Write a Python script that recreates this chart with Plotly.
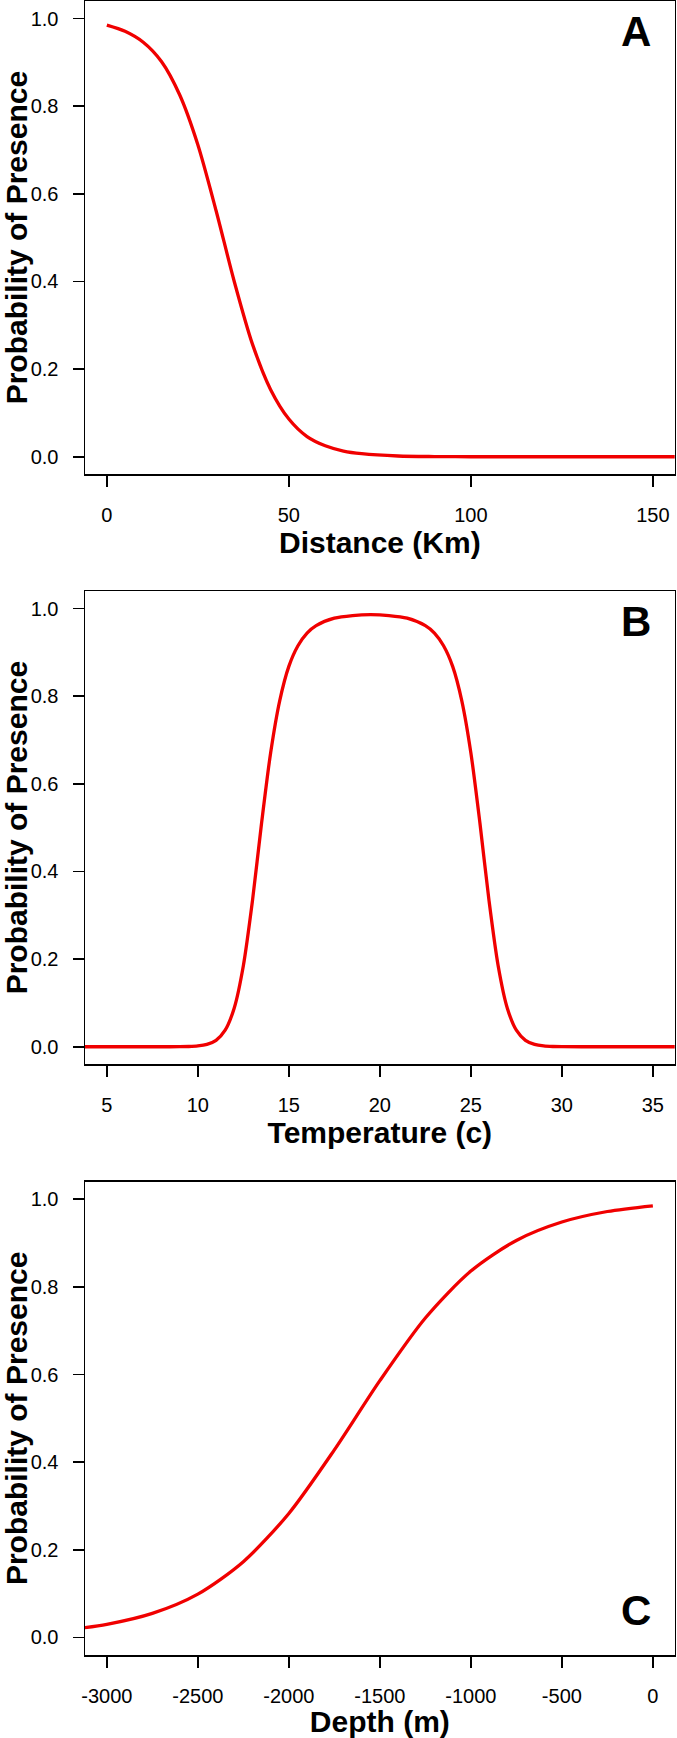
import plotly.graph_objects as go

# ---------------- data ----------------
dist_km = [0, 5, 10, 15, 20, 25, 30, 35, 40, 45, 50, 55, 60, 65, 70, 80, 90, 100, 120, 140, 160]
prob_dist = [0.985, 0.971, 0.946, 0.902, 0.826, 0.712, 0.562, 0.400, 0.257, 0.153, 0.086,
             0.046, 0.025, 0.013, 0.007, 0.0018, 0.0005, 0.0001, 0.0, 0.0, 0.0]

temp_c = [3.5, 5, 7, 8, 9, 9.5, 10, 10.5, 11, 11.5, 12, 12.5, 13, 13.5, 14, 14.5, 15, 15.5,
          16, 16.5, 17.5, 18.5, 19.5, 20.5, 21.5, 22.5, 23, 23.5, 24, 24.5, 25, 25.5, 26,
          26.5, 27, 27.5, 28, 28.5, 29, 29.5, 30, 32, 34, 36.5]
prob_temp = [0.0, 0.0, 0.0, 0.0, 0.0002, 0.0006, 0.0018, 0.0054, 0.0147, 0.0378, 0.0886,
             0.185, 0.333, 0.510, 0.671, 0.790, 0.868, 0.915, 0.944, 0.961, 0.978, 0.984,
             0.986, 0.984, 0.978, 0.961, 0.944, 0.915, 0.868, 0.790, 0.671, 0.510, 0.333,
             0.185, 0.0886, 0.0378, 0.0147, 0.0054, 0.0018, 0.0006, 0.0002, 0.0, 0.0, 0.0]

depth_m = [-3200, -3000, -2750, -2500, -2250, -2000, -1750, -1500, -1250, -1000, -750, -500, -250, 0]
prob_depth = [0.018, 0.030, 0.055, 0.099, 0.173, 0.283, 0.428, 0.586, 0.729, 0.836, 0.906,
              0.948, 0.972, 0.985]

y_ticks = [0.0, 0.2, 0.4, 0.6, 0.8, 1.0]
y_ticktext = ["0.0", "0.2", "0.4", "0.6", "0.8", "1.0"]
dist_ticks = [0, 50, 100, 150]
temp_ticks = [5, 10, 15, 20, 25, 30, 35]
depth_ticks = [-3000, -2500, -2000, -1500, -1000, -500, 0]

x_titles = ["Distance (Km)", "Temperature (c)", "Depth (m)"]
y_title = "Probability of Presence"
panel_labels = ["A", "B", "C"]

# ---------------- figure ----------------
W, H = 677, 1738
FONT = "Liberation Sans, Arial, sans-serif"
LINE_RED = "#f00000"

fig = go.Figure()
series = [(dist_km, prob_dist), (temp_c, prob_temp), (depth_m, prob_depth)]
for i, (xs, ys) in enumerate(series):
    sfx = "" if i == 0 else str(i + 1)
    fig.add_trace(go.Scatter(
        x=xs, y=ys, mode="lines",
        line=dict(color=LINE_RED, width=3.3, shape="spline", smoothing=0.8),
        xaxis="x" + sfx, yaxis="y" + sfx, showlegend=False, hoverinfo="skip"))

x_left, x_right = 85, 674.7
panel_tops = [1, 591, 1181.7]
panel_h = 473.3
x_dom = [x_left / W, x_right / W]

x_ranges = [[-6, 156], [3.8, 36.2], [-3120, 120]]
x_tickvals = [dist_ticks, temp_ticks, depth_ticks]

common_axis = dict(
    showline=True, linecolor="black", linewidth=1.5, mirror=True,
    ticks="outside", ticklen=11, tickwidth=1.5, tickcolor="black",
    showgrid=False, zeroline=False, automargin=False,
    tickfont=dict(family=FONT, size=20, color="black"),
)

layout_axes = {}
for i in range(3):
    sfx = "" if i == 0 else str(i + 1)
    top = panel_tops[i]
    bottom = top + panel_h
    y_dom = [1 - bottom / H, 1 - top / H]
    layout_axes["xaxis" + sfx] = dict(
        common_axis, domain=x_dom, anchor="y" + sfx, range=x_ranges[i],
        tickmode="array", tickvals=x_tickvals[i],
        ticktext=[str(v) for v in x_tickvals[i]],
        ticklabelstandoff=11,
        title=dict(text=x_titles[i], standoff=4,
                   font=dict(family=FONT, size=30, color="black", weight="bold")),
    )
    layout_axes["yaxis" + sfx] = dict(
        common_axis, domain=y_dom, anchor="x" + sfx, range=[-0.04, 1.04],
        tickmode="array", tickvals=y_ticks, ticktext=y_ticktext,
        ticklabelstandoff=10,
        title=dict(text=y_title, standoff=7,
                   font=dict(family=FONT, size=30, color="black", weight="bold")),
    )

label_y = [31, 621, 1610]
annotations = []
for lab, yy in zip(panel_labels, label_y):
    annotations.append(dict(
        text=lab, xref="paper", yref="paper", x=636 / W, y=1 - yy / H,
        xanchor="center", yanchor="middle", showarrow=False,
        font=dict(family=FONT, size=42, color="black", weight="bold")))

fig.update_layout(
    width=W, height=H, autosize=False,
    margin=dict(l=0, r=0, t=0, b=0),
    paper_bgcolor="white", plot_bgcolor="white",
    annotations=annotations,
    **layout_axes,
)

fig.write_html(
    "out.html",
    config={"displayModeBar": False, "staticPlot": True},
    post_script="document.body.style.margin='0';document.body.style.overflow='hidden';",
)
